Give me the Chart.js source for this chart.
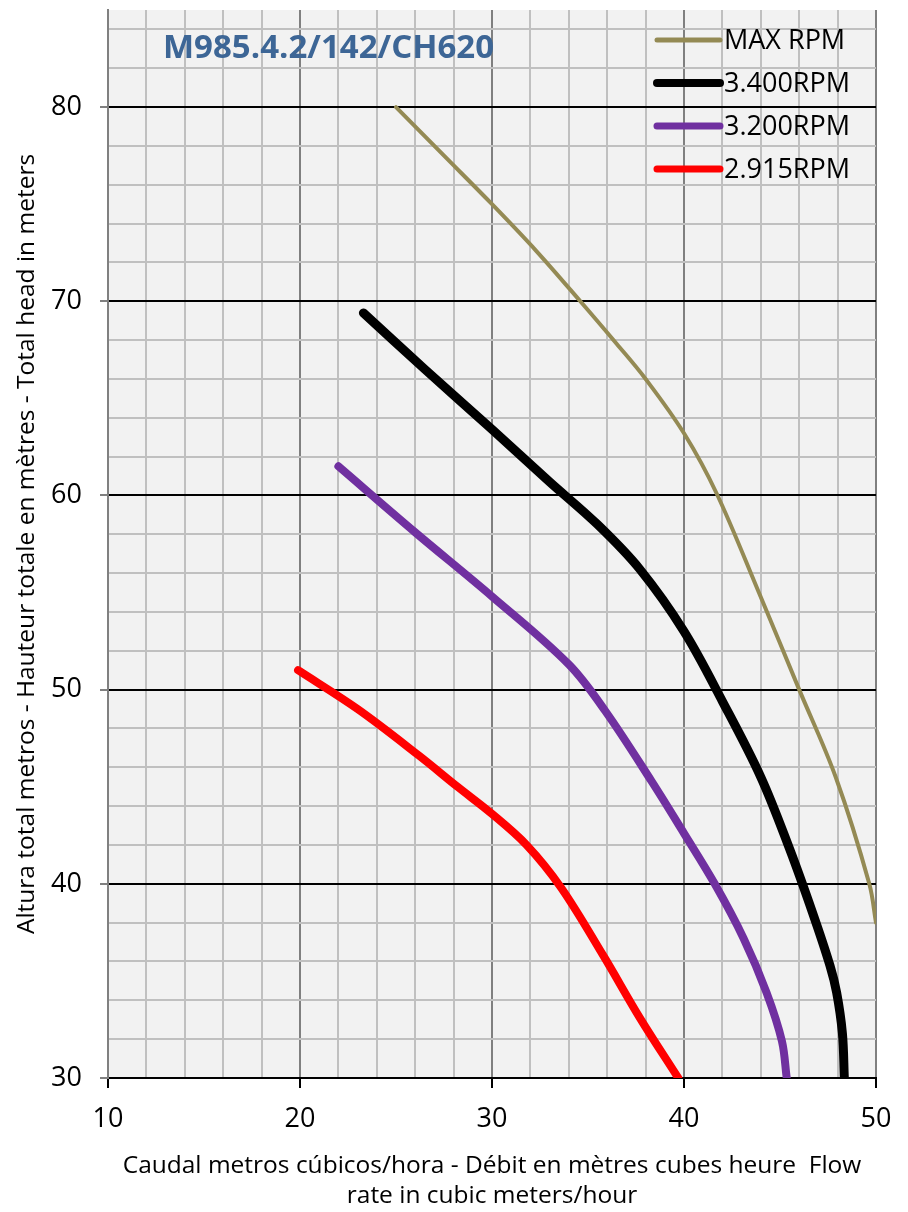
<!DOCTYPE html>
<html lang="es">
<head>
<meta charset="utf-8">
<title>M985.4.2/142/CH620</title>
<script src="https://cdn.jsdelivr.net/npm/chart.js@4.4.1/dist/chart.umd.min.js"></script>
<style>
    html, body { margin: 0; padding: 0; background: #ffffff; }
    #grafico { display: block; }
</style>
</head>
<body>
<canvas id="grafico" width="908" height="1212"></canvas>
<script>
// Curvas: caudal (m3/h) y altura (m)
const etiquetas = ['MAX RPM', '3.400RPM', '3.200RPM', '2.915RPM'];
const colores = ['#948a54', '#000000', '#7030a0', '#ff0000'];
const grosores = [4, 9, 8, 8];

const caudalMax = [25, 27.5, 30, 32.3, 34.6, 36.5, 38, 40, 41.7, 43.9, 46, 47.9, 49.65, 50];
const alturaMax = [80, 77.5, 75, 72.6, 70, 67.8, 66, 63.2, 60.1, 55, 50, 45.5, 40, 38];

const caudal3400 = [23.3, 26.5, 30, 33, 35.5, 37.7, 40, 42, 44, 45.5, 46.7, 47.6, 47.95, 48.25, 48.35];
const altura3400 = [69.4, 66.5, 63.4, 60.7, 58.5, 56.2, 53, 49.4, 45.5, 41.8, 38.5, 35.8, 34.4, 32.3, 30];

const caudal3200 = [22, 26, 30, 34, 35.9, 38.3, 40, 41.6, 43.1, 44.3, 45.1, 45.35];
const altura3200 = [61.5, 58.1, 54.8, 51.3, 48.9, 45.3, 42.6, 40, 37.2, 34.4, 31.9, 30];

const caudal2915 = [19.9, 23, 26.2, 28.2, 30, 31.8, 33.6, 35.8, 37.7, 39.7];
const altura2915 = [51, 49, 46.6, 45, 43.6, 42, 39.8, 36.3, 33.1, 30];

// Ejes
const ejeX = { min: 10, max: 50, paso: 2 };
const ejeY = { min: 30, max: 85, paso: 2 };

const tituloGrafico = 'M985.4.2/142/CH620';
const tituloX = ['Caudal metros cúbicos/hora - Débit en mètres cubes heure  Flow', 'rate in cubic meters/hour'];
const tituloY = 'Altura total metros - Hauteur totale en mètres - Total head in meters';

const fuente = "'Open Sans', 'DejaVu Sans', sans-serif";

const puntos = (xs, ys) => xs.map((x, i) => ({ x: x, y: ys[i] }));
const series = [
    puntos(caudalMax, alturaMax),
    puntos(caudal3400, altura3400),
    puntos(caudal3200, altura3200),
    puntos(caudal2915, altura2915)
];

const esMayor = (v) => Math.abs(v % 10) < 1e-6;

// Sin márgenes automáticos por las etiquetas: el área queda fija
const sinRelleno = (scale) => {
    scale.paddingTop = 0;
    scale.paddingBottom = 0;
    scale.paddingLeft = 0;
    scale.paddingRight = 0;
};

// Fondo gris del área de trazado
const fondoPlugin = {
    id: 'fondo',
    beforeDraw(chart) {
        const { ctx, chartArea } = chart;
        ctx.save();
        ctx.fillStyle = '#ffffff';
        ctx.fillRect(0, 0, chart.width, chart.height);
        ctx.fillStyle = '#f2f2f2';
        ctx.fillRect(chartArea.left, chartArea.top, chartArea.right - chartArea.left, chartArea.bottom - chartArea.top);
        ctx.restore();
    }
};

// Título interior y leyenda dentro del área
const rotulosPlugin = {
    id: 'rotulos',
    afterDraw(chart) {
        const { ctx, chartArea } = chart;
        ctx.save();

        ctx.fillStyle = '#3d6696';
        ctx.font = "bold 33px 'Open Sans', sans-serif";
        ctx.textBaseline = 'middle';
        ctx.textAlign = 'left';
        ctx.fillText(tituloGrafico, chartArea.left + 55, chartArea.top + 39);

        const x0 = chartArea.right - 219;
        const x1 = chartArea.right - 156;
        ctx.font = "27px 'Open Sans', sans-serif";
        chart.data.datasets.forEach((ds, i) => {
            const y = chartArea.top + 30 + i * 43;
            ctx.strokeStyle = ds.borderColor;
            ctx.lineWidth = Math.max(5, ds.borderWidth - 1);
            ctx.lineCap = 'round';
            ctx.beginPath();
            ctx.moveTo(x0, y);
            ctx.lineTo(x1, y);
            ctx.stroke();
            ctx.fillStyle = '#000000';
            ctx.fillText(ds.label, x1 + 4, y + 1);
        });
        ctx.restore();
    }
};

const config = {
    type: 'line',
    data: {
        datasets: series.map((datos, i) => ({
            label: etiquetas[i],
            data: datos,
            borderColor: colores[i],
            backgroundColor: colores[i],
            borderWidth: grosores[i],
            borderCapStyle: 'round',
            borderJoinStyle: 'round',
            tension: 0.35,
            pointRadius: 0,
            fill: false
        }))
    },
    options: {
        responsive: false,
        devicePixelRatio: 1,
        animation: false,
        layout: {
            padding: { top: 10, right: 32, left: 0, bottom: 0 }
        },
        plugins: {
            legend: { display: false },
            tooltip: { enabled: false }
        },
        scales: {
            x: {
                type: 'linear',
                min: ejeX.min,
                max: ejeX.max,
                afterFit(scale) { scale.height = 134; sinRelleno(scale); },
                border: { color: '#000000', width: 2 },
                grid: {
                    color: (c) => esMayor(c.tick.value) ? '#808080' : '#c0c0c0',
                    lineWidth: 2,
                    tickLength: 10,
                    tickColor: (c) => esMayor(c.tick.value) ? '#000000' : 'rgba(0,0,0,0)',
                    tickWidth: 2
                },
                ticks: {
                    stepSize: ejeX.paso,
                    autoSkip: false,
                    maxRotation: 0,
                    padding: 15,
                    color: '#000000',
                    font: { family: fuente, size: 27 },
                    callback: (v) => esMayor(v) ? String(v) : ''
                },
                title: {
                    display: true,
                    text: tituloX,
                    color: '#000000',
                    font: { family: fuente, size: 24.5, lineHeight: '30px' },
                    padding: { top: 0, bottom: 1 }
                }
            },
            y: {
                type: 'linear',
                min: ejeY.min,
                max: ejeY.max,
                afterFit(scale) { scale.width = 108; sinRelleno(scale); },
                border: { color: '#808080', width: 2 },
                grid: {
                    color: (c) => esMayor(c.tick.value) ? '#000000' : '#c0c0c0',
                    lineWidth: 2,
                    tickLength: 8,
                    tickColor: (c) => esMayor(c.tick.value) ? '#808080' : 'rgba(0,0,0,0)',
                    tickWidth: 2
                },
                ticks: {
                    stepSize: ejeY.paso,
                    includeBounds: false,
                    autoSkip: false,
                    padding: 18,
                    color: '#000000',
                    font: { family: fuente, size: 27 },
                    callback: (v) => esMayor(v) ? String(v) : ''
                },
                title: {
                    display: true,
                    text: tituloY,
                    color: '#000000',
                    font: { family: fuente, size: 24.5, lineHeight: '30px' },
                    padding: { top: 12, bottom: 0 }
                }
            }
        }
    },
    plugins: [fondoPlugin, rotulosPlugin]
};

const grafico = new Chart(document.getElementById('grafico').getContext('2d'), config);
</script>
</body>
</html>
